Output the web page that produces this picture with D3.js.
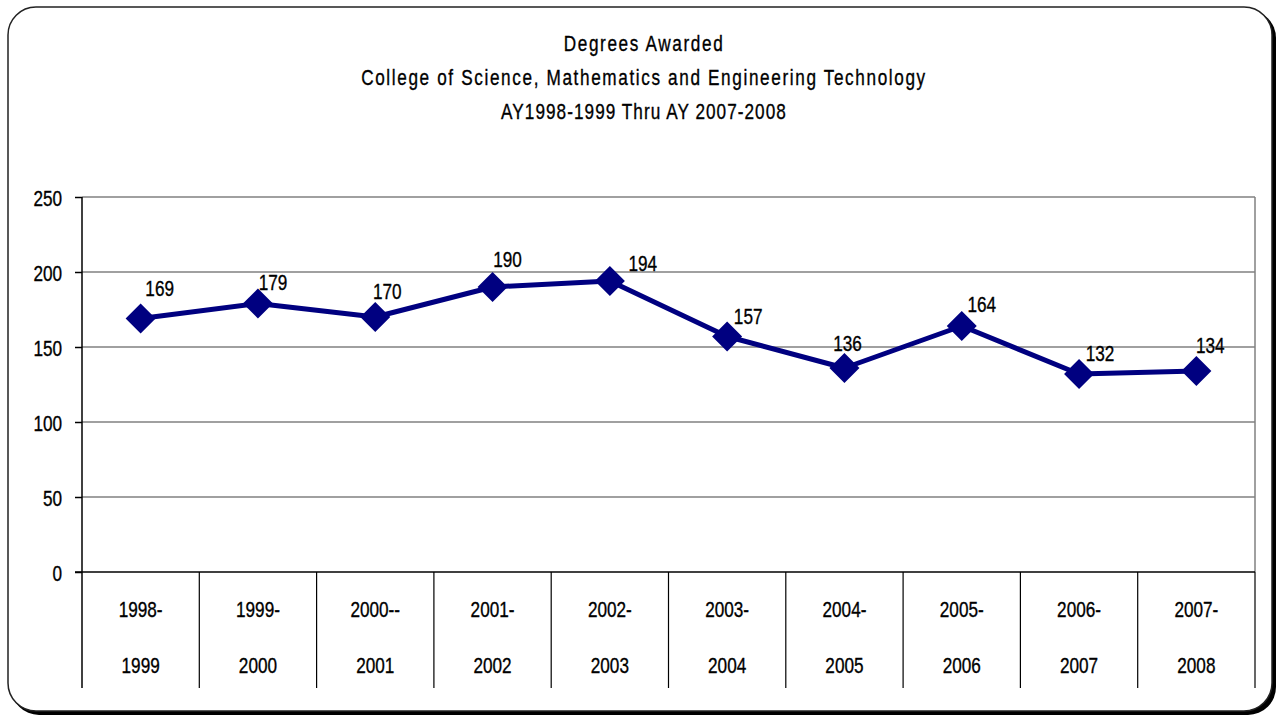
<!DOCTYPE html>
<html><head><meta charset="utf-8">
<script src="https://cdn.jsdelivr.net/npm/d3@7"></script>
<style>
html,body{margin:0;padding:0;background:#fff;}
svg{display:block;}
text{font-family:"Liberation Sans",Arial,sans-serif;fill:#000;stroke:#000;stroke-width:0.35px;}
</style></head>
<body>
<svg id="chart" width="1279" height="717"></svg>
<script>
const categories = [["1998-","1999"],["1999-","2000"],["2000--","2001"],["2001-","2002"],["2002-","2003"],["2003-","2004"],["2004-","2005"],["2005-","2006"],["2006-","2007"],["2007-","2008"]];
const values = [169,179,170,190,194,157,136,164,132,134];
const yTicks = [0,50,100,150,200,250];
const titleLines = ["Degrees Awarded","College of Science, Mathematics and Engineering Technology","AY1998-1999 Thru AY 2007-2008"];
// hand-placed data-label nudges (relative to each point), as in the original
const labelNudgeX = [19,15,12,15,33,21,3,20,21,14];
const labelNudgeY = [-31,-22,-26,-28,-18,-21,-25,-22,-21,-26];

const NARROW = 0.78, FS = "22px";
function narrow(sel){
  sel.each(function(){
    const t = d3.select(this);
    const x = +t.attr("x")||0, y = +t.attr("y")||0;
    t.attr("x",0).attr("y",0).attr("transform",`translate(${x},${y}) scale(${NARROW},1)`);
  });
}

const svg = d3.select("#chart");
svg.append("rect").attr("x",11).attr("y",10).attr("width",1265).attr("height",705).attr("rx",28).attr("fill","#000");
svg.append("rect").attr("x",8).attr("y",7).attr("width",1264).attr("height",704).attr("rx",28).attr("fill","#fff").attr("stroke","#222").attr("stroke-width",1.5);

const pLeft=82,pRight=1255,pTop=197,pBottom=572,axisBottom=688;
const x = d3.scaleBand().domain(d3.range(values.length)).range([pLeft,pRight]);
const y = d3.scaleLinear().domain([0,250]).range([pBottom,pTop]);

svg.append("g").selectAll("text").data(titleLines).join("text")
  .attr("x",644).attr("y",(d,i)=>51+i*34).attr("text-anchor","middle")
  .style("font-size",FS).style("letter-spacing",(d,i)=> i===2 ? "1.35px" : "2.1px").text(d=>d).call(narrow);

svg.append("g").selectAll("line").data(yTicks.filter(d=>d>0)).join("line")
  .attr("x1",pLeft).attr("x2",pRight).attr("y1",d=>y(d)).attr("y2",d=>y(d))
  .attr("stroke","#808080").attr("stroke-width",1.5);
svg.append("line").attr("x1",pRight).attr("x2",pRight).attr("y1",pTop).attr("y2",pBottom).attr("stroke","#808080").attr("stroke-width",1.5);

const yAxis = d3.axisLeft(y).tickValues(yTicks).tickSize(7).tickPadding(13);
const gy = svg.append("g").attr("transform",`translate(${pLeft},0)`).call(yAxis);
gy.select(".domain").remove();
gy.selectAll(".tick line").attr("stroke","#000").attr("stroke-width",1.5);
gy.selectAll(".tick text").attr("dy",null).attr("y",8)
  .style("font-size",FS).style("font-family",'"Liberation Sans",Arial,sans-serif').attr("fill","#000").call(narrow);
svg.append("line").attr("x1",pLeft).attr("x2",pLeft).attr("y1",pTop).attr("y2",axisBottom).attr("stroke","#000").attr("stroke-width",1.5);
svg.append("line").attr("x1",pLeft-7).attr("x2",pRight).attr("y1",pBottom).attr("y2",pBottom).attr("stroke","#000").attr("stroke-width",1.5);
const bounds = d3.range(1,values.length+1).map(i=> x(i-1)+x.bandwidth());
svg.append("g").selectAll("line").data(bounds).join("line")
  .attr("x1",d=>d).attr("x2",d=>d).attr("y1",pBottom).attr("y2",axisBottom)
  .attr("stroke","#000").attr("stroke-width",1.2);
const cg = svg.append("g").selectAll("g").data(categories).join("g")
  .attr("transform",(d,i)=>`translate(${x(i)+x.bandwidth()/2},0)`);
cg.append("text").attr("y",617).attr("text-anchor","middle").style("font-size",FS).text(d=>d[0]).call(narrow);
cg.append("text").attr("y",673).attr("text-anchor","middle").style("font-size",FS).text(d=>d[1]).call(narrow);

const cx = i => x(i)+x.bandwidth()/2;
svg.append("path").datum(values)
  .attr("d",d3.line().x((d,i)=>cx(i)).y(d=>y(d)))
  .attr("fill","none").attr("stroke","#000080").attr("stroke-width",5).attr("stroke-linejoin","round");
svg.append("g").selectAll("path").data(values).join("path")
  .attr("transform",(d,i)=>`translate(${cx(i)},${y(d)})`)
  .attr("d","M0,-15L15,0L0,15L-15,0Z").attr("fill","#000080");
svg.append("g").selectAll("text").data(values).join("text")
  .attr("x",(d,i)=>cx(i)+labelNudgeX[i]).attr("y",(d,i)=>y(d)+labelNudgeY[i]+8).attr("text-anchor","middle")
  .style("font-size",FS).text(d=>d).call(narrow);
</script>
</body></html>
